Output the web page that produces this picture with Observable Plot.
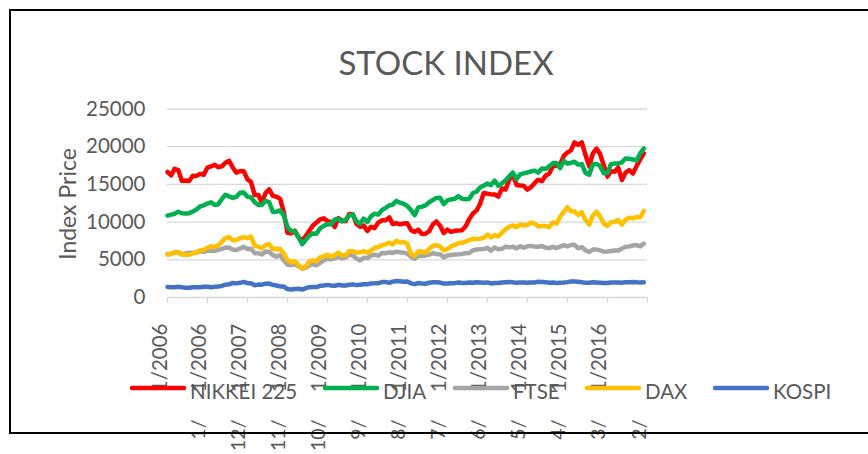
<!DOCTYPE html>
<html><head><meta charset="utf-8">
<script src="https://cdn.jsdelivr.net/npm/d3@7"></script>
<script src="https://cdn.jsdelivr.net/npm/@observablehq/plot@0.6"></script>
<style>
html,body{margin:0;padding:0;background:#fff;}
#wrap{position:relative;width:868px;height:454px;overflow:hidden;font-family:Lato,"Open Sans",sans-serif;}
#wrap svg{position:absolute;left:0;top:0;}
</style></head><body><div id="wrap"></div>
<script>
// Monthly values, Jan 2006 .. Dec 2016
const nikkei = [
16650,16205,17060,16906,15467,15505,15457,16141,16128,16399,16274,17226,
17383,17604,17288,17400,17876,18138,17249,16569,16786,16738,15681,15308,
13592,13603,12526,13850,14339,13481,13377,13073,11260,8577,8512,8860,
7994,7568,8110,8828,9523,9958,10357,10493,10133,10035,9346,10546,
10198,10126,11090,11057,9769,9383,9537,8824,9369,9202,9937,10229,
10238,10624,9755,9850,9694,9816,9833,8955,8700,8988,8435,8455,
8803,9723,10084,9521,8543,9007,8695,8840,8870,8928,9446,10395,
11139,11559,12398,13861,13775,13677,13668,13389,14456,14328,15662,16291,
14915,14841,14828,14304,14632,15162,15621,15425,16174,16414,17460,17451,
17674,18798,19207,19520,20563,20236,20585,18890,17388,19083,19747,19034,
17518,16027,16759,16666,17235,15576,16569,16887,16450,17425,18308,19114];
const djia = [
10865,10993,11109,11367,11168,11150,11186,11381,11679,12081,12222,12463,
12622,12269,12354,13063,13628,13409,13212,13358,13896,13930,13372,13265,
12650,12266,12263,12820,12638,11350,11378,11544,10851,9325,8829,8776,
8001,7063,7609,8168,8500,8447,9172,9496,9712,9713,10345,10428,
10067,10325,10857,11009,10137,9774,10466,10015,10788,11118,11006,11578,
11892,12226,12320,12811,12570,12414,12143,11614,10913,11955,12046,12218,
12633,12952,13212,13214,12393,12880,13009,13091,13437,13096,13026,13104,
13861,14054,14579,14840,15116,14910,15500,14810,15130,15546,16086,16577,
15699,16322,16458,16581,16717,16827,16563,17098,17043,17391,17828,17823,
17165,18133,17776,17841,18011,17620,17690,16528,16285,17664,17720,17425,
16466,16517,17685,17774,17787,17930,18432,18401,18308,18142,19124,19763];
const ftse = [
5760,5792,5965,6023,5724,5833,5928,5906,5961,6129,6049,6221,
6203,6172,6308,6450,6621,6608,6360,6303,6467,6722,6432,6457,
5880,5884,5702,6087,6054,5626,5412,5637,4902,4377,4288,4434,
4150,3830,3926,4244,4418,4249,4608,4909,5134,5045,5191,5413,
5189,5355,5680,5553,5188,4917,5258,5225,5549,5675,5528,5900,
5863,5995,5909,6070,5990,5946,5815,5395,5128,5544,5505,5572,
5682,5872,5768,5738,5321,5571,5635,5711,5742,5783,5867,5898,
6277,6361,6412,6430,6583,6215,6621,6413,6462,6731,6651,6749,
6510,6810,6598,6780,6845,6744,6730,6820,6623,6546,6723,6566,
6749,6947,6773,6961,6984,6521,6696,6248,6062,6361,6356,6242,
6084,6097,6175,6242,6231,6504,6724,6782,6899,6954,6784,7143];
const dax = [
5674,5797,5970,6009,5692,5683,5682,5859,6005,6269,6309,6597,
6789,6716,6917,7409,7883,8007,7584,7638,7862,8019,7871,8067,
6851,6748,6535,6949,7097,6418,6479,6422,5831,4988,4669,4810,
4338,3843,4085,4770,4941,4809,5332,5465,5675,5415,5625,5957,
5608,5598,6154,6136,5964,5966,6148,5925,6229,6601,6688,6914,
7077,7273,7041,7514,7294,7376,7159,5785,5502,6141,6089,5898,
6458,6856,6947,6761,6264,6416,6772,6971,7216,7260,7405,7612,
7776,7742,7795,7914,8349,7959,8276,8104,8594,9033,9406,9552,
9306,9692,9556,9603,9943,9833,9407,9470,9474,9327,9981,9806,
10694,11402,11966,11454,11414,10945,11309,10259,9660,10850,11382,10743,
9798,9495,9966,10039,10263,9680,10337,10593,10511,10665,10640,11481];
const kospi = [
1399,1371,1359,1420,1352,1295,1297,1352,1371,1364,1432,1434,
1360,1417,1453,1542,1700,1744,1933,1874,1946,2064,1906,1897,
1625,1712,1704,1825,1852,1674,1594,1474,1448,1113,1076,1124,
1162,1063,1206,1369,1396,1390,1557,1591,1673,1581,1555,1683,
1602,1594,1693,1742,1641,1698,1759,1742,1873,1883,1905,2051,
2069,1939,2107,2192,2142,2101,2133,1880,1770,1909,1847,1826,
1956,2031,2014,1982,1843,1854,1881,1906,1996,1912,1933,1997,
1962,2027,2005,1963,2001,1863,1915,1926,1997,2030,2045,2011,
1941,1980,1986,1961,1995,2002,2076,2068,2020,1964,1981,1916,
1949,1986,2041,2127,2115,2074,2030,1941,1963,2029,1991,1961,
1912,1917,1996,1994,1983,1970,2016,2035,2044,2008,1983,2026];

const seriesNames = ["NIKKEI 225","DJIA","FTSE","DAX","KOSPI"];
const seriesColors = ["#FF0000","#00B050","#A5A5A5","#FFC000","#4472C4"];
const yTicks = [0,5000,10000,15000,20000,25000];
const xTickDates = ["2006-01-01","2006-12-01","2007-11-01","2008-10-01","2009-09-01","2010-08-01","2011-07-01","2012-06-01","2013-05-01","2014-04-01","2015-03-01","2016-02-01","2017-01-01"];
const xTickTop = ["1/2006","1/2006","1/2007","1/2008","1/2009","1/2010","1/2011","1/2012","1/2013","1/2014","1/2015","1/2016"];
const xTickBottom = ["1/","12/","11/","10/","9/","8/","7/","6/","5/","4/","3/","2/"];
const titleText = "STOCK INDEX";
const yLabel = "Index Price";

const months = d3.utcMonth.range(new Date("2006-01-01"), new Date("2017-01-01"));
const allValues = [nikkei, djia, ftse, dax, kospi];
const table = seriesNames.flatMap((name, i) => allValues[i].map((v, j) => ({date: months[j], value: v, series: name})));
const tickDates = xTickDates.map(s => new Date(s));
const topTicks = xTickTop.map((t, i) => ({date: tickDates[i], label: t}));
const bottomTicks = xTickBottom.map((t, i) => ({date: tickDates[i + 1], label: t}));

const FONT = "Lato, 'Open Sans', sans-serif";
const GREY = "#595959";

const chart = Plot.plot({
  width: 868, height: 454,
  marginLeft: 167, marginRight: 221, marginTop: 108.5, marginBottom: 157,
  style: {fontFamily: FONT, background: "transparent", overflow: "visible"},
  x: {type: "utc", domain: [tickDates[0], tickDates[tickDates.length - 1]]},
  y: {domain: [0, 25000]},
  color: {domain: seriesNames, range: seriesColors},
  marks: [
    Plot.gridY(yTicks, {stroke: "#D9D9D9", strokeOpacity: 1, strokeWidth: 1.3}),
    Plot.axisY(yTicks, {tickSize: 0, tickPadding: 22, fontSize: 20.5, fill: GREY, label: null, tickFormat: d => String(d)}),
    Plot.axisX(tickDates, {tickSize: 6, stroke: "#D9D9D9", strokeWidth: 1.3, tickFormat: () => "", label: null}),
    Plot.line(table, {x: "date", y: "value", z: "series", stroke: "series", strokeWidth: 4.5, strokeLinejoin: "round", strokeLinecap: "round"}),
    Plot.text(topTicks, {x: "date", text: "label", frameAnchor: "bottom", dy: 26, dx: -1, rotate: -90, textAnchor: "end", fontSize: 20.5, fill: GREY}),
    Plot.text(bottomTicks, {x: "date", text: "label", frameAnchor: "bottom", dy: 122, dx: -2, rotate: -90, textAnchor: "end", fontSize: 19.5, fill: GREY})
  ]
});
const wrap = document.getElementById("wrap");
wrap.appendChild(chart);

// overlay: title, axis title, legend, chart border
const ov = d3.create("svg").attr("width", 868).attr("height", 454).style("font-family", FONT);
ov.append("text").attr("x", 446).attr("y", 75).attr("text-anchor", "middle")
  .attr("font-size", 33).attr("fill", GREY).text(titleText);
ov.append("text").attr("transform", "translate(76,204) rotate(-90)").attr("text-anchor", "middle")
  .attr("font-size", 23).attr("fill", GREY).text(yLabel);
const legendX = [130, 323, 453, 585, 713];
seriesNames.forEach((name, i) => {
  const x0 = legendX[i];
  ov.append("line").attr("x1", x0 + 2).attr("x2", x0 + 54).attr("y1", 388).attr("y2", 388)
    .attr("stroke", seriesColors[i]).attr("stroke-width", 4.5).attr("stroke-linecap", "round");
  ov.append("text").attr("x", x0 + 60).attr("y", 399).attr("font-size", 20.5).attr("fill", GREY).text(name);
});
ov.append("rect").attr("x", 10).attr("y", 10).attr("width", 900).attr("height", 423)
  .attr("fill", "none").attr("stroke", "#000").attr("stroke-width", 2);
wrap.appendChild(ov.node());
</script>
</body></html>
